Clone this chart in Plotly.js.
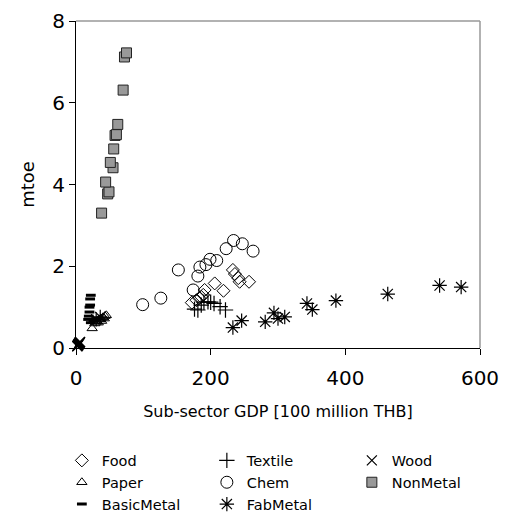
<!DOCTYPE html>
<html>
<head>
<meta charset="utf-8">
<script src="https://cdn.plot.ly/plotly-3.0.1.min.js"></script>
<style>html,body{margin:0;padding:0;background:#fff}#chart{width:507px;height:515px}</style>
</head>
<body>
<div id="chart"></div>
<script>
// Series values (x: Sub-sector GDP [100 million THB], y: mtoe)
const foodX = [172, 179, 183, 189, 191, 206, 219, 233, 236, 241, 243, 257, 186];
const foodY = [1.11, 1.17, 1.22, 1.30, 1.42, 1.58, 1.40, 1.91, 1.81, 1.71, 1.62, 1.62, 1.25];
const textileX = [176, 181, 186, 190, 196, 200, 205, 214, 222];
const textileY = [0.95, 0.93, 1.05, 1.12, 1.13, 1.12, 1.09, 1.01, 0.93];
const woodX = [2, 3, 3, 4, 4, 5, 5, 5, 6, 6, 4, 3, 2];
const woodY = [0.05, 0.07, 0.08, 0.09, 0.10, 0.11, 0.12, 0.13, 0.14, 0.15, 0.10, 0.06, 0.04];
const paperX = [24, 28, 31, 34, 37, 40, 43, 45, 42, 38, 33];
const paperY = [0.48, 0.60, 0.65, 0.70, 0.72, 0.75, 0.78, 0.80, 0.72, 0.66, 0.62];
const chemX = [99, 126, 152, 174, 181, 184, 193, 199, 209, 223, 234, 247, 263];
const chemY = [1.06, 1.22, 1.91, 1.42, 1.76, 1.98, 2.04, 2.17, 2.14, 2.43, 2.63, 2.55, 2.37];
const nonMetalX = [38, 47, 49, 44, 55, 51, 56, 58, 60, 62, 70, 72, 75];
const nonMetalY = [3.30, 3.77, 3.82, 4.06, 4.41, 4.54, 4.87, 5.20, 5.22, 5.47, 6.31, 7.12, 7.22];
const basicMetalX = [22, 21, 21, 20, 20, 19, 18, 22, 26, 30];
const basicMetalY = [1.29, 1.20, 1.05, 1.00, 0.88, 0.78, 0.70, 0.62, 0.66, 0.72];
const fabMetalX = [233, 246, 281, 294, 300, 310, 343, 351, 386, 463, 540, 572, 30, 36];
const fabMetalY = [0.50, 0.67, 0.64, 0.86, 0.72, 0.76, 1.09, 0.94, 1.16, 1.32, 1.53, 1.49, 0.70, 0.76];

const xTicks = [0, 200, 400, 600];
const yTicks = [0, 2, 4, 6, 8];

const FONT = "DejaVu Sans, Verdana, sans-serif";
function mk(name, x, y, marker) {
  return {type: 'scatter', mode: 'markers', name: name, x: x, y: y, marker: marker, cliponaxis: false};
}
const traces = [
  mk('Food', foodX, foodY, {symbol: 'diamond-open', size: 10, color: '#000', line: {width: 1, color: '#000'}}),
  mk('Textile', textileX, textileY, {symbol: 'cross-thin-open', size: 11, color: '#000', line: {width: 1.2, color: '#000'}}),
  mk('Wood', woodX, woodY, {symbol: 'x-thin-open', size: 10, color: '#000', line: {width: 1.2, color: '#000'}}),
  mk('Paper', paperX, paperY, {symbol: 'triangle-up-open', size: 9, color: '#000', line: {width: 1, color: '#000'}}),
  mk('Chem', chemX, chemY, {symbol: 'circle-open', size: 12, color: '#000', line: {width: 1, color: '#000'}}),
  mk('NonMetal', nonMetalX, nonMetalY, {symbol: 'square', size: 10, color: '#999999', line: {width: 1, color: '#222'}}),
  mk('BasicMetal', basicMetalX, basicMetalY, {symbol: 'line-ew-open', size: 7, color: '#000', line: {width: 3, color: '#000'}}),
  mk('FabMetal', fabMetalX, fabMetalY, {symbol: 'asterisk-open', size: 12, color: '#000', line: {width: 1.2, color: '#000'}})
];

const layout = {
  width: 507, height: 515,
  margin: {l: 76, r: 27, t: 21, b: 167, autoexpand: false},
  paper_bgcolor: '#fff', plot_bgcolor: '#fff',
  font: {family: FONT, color: '#000'},
  showlegend: true,
  xaxis: {
    range: [0, 600], tickvals: xTicks, ticktext: xTicks.map(String),
    showgrid: false, zeroline: false, showline: true, linecolor: '#000', linewidth: 1,
    ticks: 'outside', ticklen: 6, tickcolor: '#000', ticklabelstandoff: 6,
    tickfont: {family: FONT, size: 20, color: '#000'},
    title: {text: 'Sub-sector GDP [100 million THB]', font: {family: FONT, size: 16, color: '#000'}, standoff: 16}
  },
  yaxis: {
    range: [0, 8], tickvals: yTicks, ticktext: yTicks.map(String),
    showgrid: false, zeroline: false, showline: true, linecolor: '#000', linewidth: 1,
    ticks: 'outside', ticklen: 6, tickcolor: '#000',
    tickfont: {family: FONT, size: 20, color: '#000'},
    title: {text: 'mtoe', font: {family: FONT, size: 18, color: '#000'}, standoff: 12}
  },
  shapes: [
    {type: 'line', xref: 'paper', yref: 'paper', x0: 0, x1: 1, y0: 1, y1: 1, line: {color: '#999', width: 1.5}},
    {type: 'line', xref: 'paper', yref: 'paper', x0: 1, x1: 1, y0: 0, y1: 1, line: {color: '#999', width: 1.5}}
  ],
  legend: {
    orientation: 'h', xref: 'paper', yref: 'paper',
    x: -0.035, y: -0.295, xanchor: 'left', yanchor: 'top',
    entrywidth: 100, entrywidthmode: 'pixels',
    font: {family: FONT, size: 14.5, color: '#000'},
    itemsizing: 'trace', tracegroupgap: 0, bgcolor: 'rgba(0,0,0,0)'
  }
};

Plotly.newPlot('chart', traces, layout, {displayModeBar: false, staticPlot: true});
</script>
</body>
</html>
